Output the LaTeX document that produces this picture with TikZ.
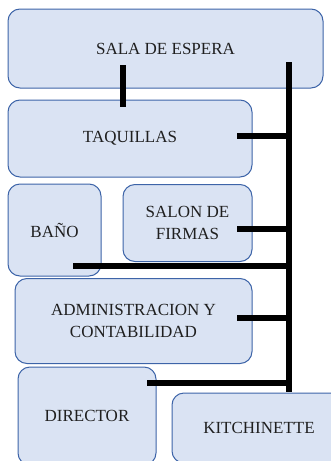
\documentclass[tikz,border=0pt]{standalone}
\usepackage{fontspec}
\setmainfont{Liberation Serif}
\definecolor{boxfill}{HTML}{DAE3F3}
\definecolor{boxline}{HTML}{3D64A8}
\begin{document}
\begin{tikzpicture}[x=1pt,y=-1pt,
  room/.style={draw=boxline, fill=boxfill, line width=1pt, rounded corners=12pt,
    align=center, font=\fontsize{17}{22}\selectfont, inner sep=0pt, text=black!88},
  wall/.style={line width=6.5pt, line cap=butt, black}]
\useasboundingbox (0,0) rectangle (331,461);
\begin{scope}
\clip (0,0) rectangle (331,461);
\node[room, minimum width=315pt, minimum height=79pt] (sala) at (165.5,48.5) {SALA DE ESPERA};
\node[room, minimum width=244pt, minimum height=77pt] (taq) at (130,138.5) {TAQUILLAS};
\node[room, minimum width=93pt, minimum height=92pt] (bano) at (54.5,230) {BAÑO};
\node[room, minimum width=129pt, minimum height=77pt] (salon) at (187.5,223) {SALON DE\\FIRMAS};
\node[room, minimum width=237pt, minimum height=85pt] (admin) at (133.5,321) {ADMINISTRACION Y\\CONTABILIDAD};
\node[room, minimum width=138pt, minimum height=98pt] (dir) at (87,416) {DIRECTOR};
\node[room, minimum width=174pt, minimum height=70pt] (kit) at (259,428) {KITCHINETTE};
\end{scope}
\coordinate (salaIn) at (123,65);
\coordinate (taqIn) at (123,107);
\coordinate (spineTop) at (289,62);
\coordinate (spineBot) at (289,392);
\coordinate (taqE) at (237,136);
\coordinate (taqJ) at (289,136);
\coordinate (salonE) at (237,229);
\coordinate (salonJ) at (289,229);
\coordinate (banoE) at (73,266);
\coordinate (banoJ) at (289,266);
\coordinate (adminE) at (237,318);
\coordinate (adminJ) at (289,318);
\coordinate (dirE) at (147,383);
\coordinate (dirJ) at (289,383);
\draw[wall] (salaIn) -- (taqIn);
\draw[wall] (spineTop) -- (spineBot);
\draw[wall] (taqE) -- (taqJ);
\draw[wall] (salonE) -- (salonJ);
\draw[wall] (banoE) -- (banoJ);
\draw[wall] (adminE) -- (adminJ);
\draw[wall] (dirE) -- (dirJ);
\end{tikzpicture}
\end{document}
